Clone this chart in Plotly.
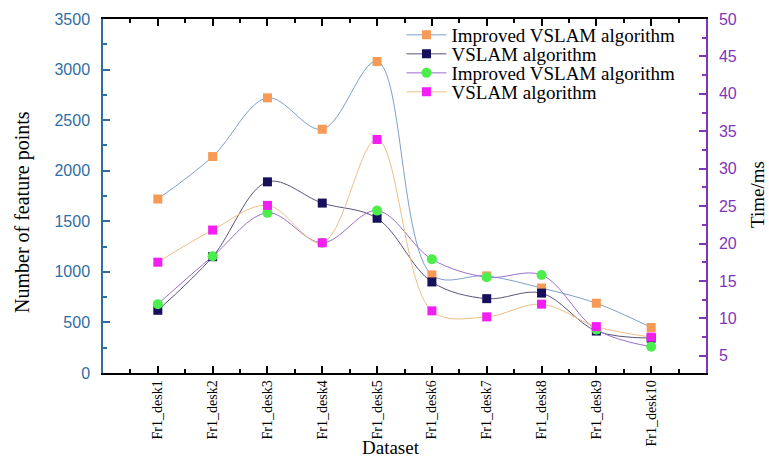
import plotly.graph_objects as go

datasets = ["Fr1_desk1", "Fr1_desk2", "Fr1_desk3", "Fr1_desk4", "Fr1_desk5",
            "Fr1_desk6", "Fr1_desk7", "Fr1_desk8", "Fr1_desk9", "Fr1_desk10"]
x_pos = [1, 2, 3, 4, 5, 6, 7, 8, 9, 10]

feat_improved = [1720, 2140, 2720, 2410, 3080, 970, 960, 840, 690, 450]
feat_vslam = [620, 1150, 1890, 1680, 1530, 900, 735, 790, 415, 345]
time_improved = [11.9, 18.3, 24.1, 20.1, 24.4, 17.9, 15.5, 15.8, 8.5, 6.2]
time_vslam = [17.5, 21.8, 25.1, 20.1, 33.9, 11.0, 10.2, 11.9, 8.9, 7.5]

LEFT_C = "#2f6ea5"
RIGHT_C = "#7f36b8"
SERIF = "Liberation Serif"
SANS = "Liberation Sans"

fig = go.Figure()
fig.add_trace(go.Scatter(
    x=x_pos, y=feat_improved, name="Improved VSLAM algorithm", mode="lines+markers",
    line=dict(color="#7d9fcc", width=1, shape="spline", smoothing=1),
    marker=dict(symbol="square", size=9, color="#f79a56"), yaxis="y", legend="legend"))
fig.add_trace(go.Scatter(
    x=x_pos, y=feat_vslam, name="VSLAM algorithm", mode="lines+markers",
    line=dict(color="#5c5478", width=1, shape="spline", smoothing=1),
    marker=dict(symbol="square", size=9, color="#16105c"), yaxis="y", legend="legend2"))
fig.add_trace(go.Scatter(
    x=x_pos, y=time_improved, name="Improved VSLAM algorithm", mode="lines+markers",
    line=dict(color="#9b6fcf", width=1, shape="spline", smoothing=1),
    marker=dict(symbol="circle", size=10, color="#4cee4c"), yaxis="y2", legend="legend3"))
fig.add_trace(go.Scatter(
    x=x_pos, y=time_vslam, name="VSLAM algorithm", mode="lines+markers",
    line=dict(color="#eebf85", width=1, shape="spline", smoothing=1),
    marker=dict(symbol="square", size=9, color="#f21ef2"), yaxis="y2", legend="legend4"))


def leg(ypix):
    return dict(x=0.495, y=(373 - ypix) / 354, xanchor="left", yanchor="middle",
                bgcolor="rgba(0,0,0,0)", font=dict(family=SERIF, size=19, color="black"),
                itemwidth=40)


fig.update_layout(
    width=769, height=460,
    margin=dict(l=103, r=63, t=19, b=87, autoexpand=False),
    paper_bgcolor="white", plot_bgcolor="white",
    showlegend=True,
    legend=leg(35), legend2=leg(54), legend3=leg(73), legend4=leg(92),
    xaxis=dict(range=[0, 11], tickvals=x_pos, ticktext=datasets, tickangle=-90,
               tickfont=dict(family=SERIF, size=14, color="black"), automargin=False,
               showline=True, linecolor="black", linewidth=1.5, mirror="ticks",
               ticks="inside", ticklen=7, tickcolor="black", tickwidth=1.5,
               minor=dict(dtick=0.5, tick0=0, ticks="inside", ticklen=4, tickcolor="black", tickwidth=1.5),
               showgrid=False, zeroline=False),
    yaxis=dict(range=[0, 3500], dtick=500, tick0=0, automargin=False,
               tickfont=dict(family=SANS, size=16, color=LEFT_C),
               showline=True, linecolor=LEFT_C, linewidth=1.5,
               ticks="inside", ticklen=7, tickcolor=LEFT_C, tickwidth=1.5,
               ticklabelstandoff=8,
               minor=dict(dtick=250, tick0=0, ticks="inside", ticklen=4, tickcolor=LEFT_C, tickwidth=1.5),
               showgrid=False, zeroline=False),
    yaxis2=dict(range=[2.7, 50], dtick=5, tick0=5, overlaying="y", side="right", automargin=False,
                tickfont=dict(family=SANS, size=16, color=RIGHT_C),
                showline=True, linecolor=RIGHT_C, linewidth=1.5,
                ticks="inside", ticklen=7, tickcolor=RIGHT_C, tickwidth=1.5,
                ticklabelstandoff=8,
                minor=dict(dtick=2.5, tick0=5, ticks="inside", ticklen=4, tickcolor=RIGHT_C, tickwidth=1.5),
                showgrid=False, zeroline=False),
    annotations=[
        dict(text="Number of feature points", xref="paper", yref="paper",
             x=(22 - 103) / 603, y=(373 - 212) / 354, textangle=-90, showarrow=False,
             xanchor="center", yanchor="middle", font=dict(family=SERIF, size=20, color="black")),
        dict(text="Time/ms", xref="paper", yref="paper",
             x=(757 - 103) / 603, y=(373 - 195) / 354, textangle=-90, showarrow=False,
             xanchor="center", yanchor="middle", font=dict(family=SERIF, size=19, color="black")),
        dict(text="Dataset", xref="paper", yref="paper",
             x=(391 - 103) / 603, y=(373 - 448) / 354, showarrow=False,
             xanchor="center", yanchor="middle", font=dict(family=SERIF, size=19, color="black")),
    ],
)

fig.write_html("out.html")
